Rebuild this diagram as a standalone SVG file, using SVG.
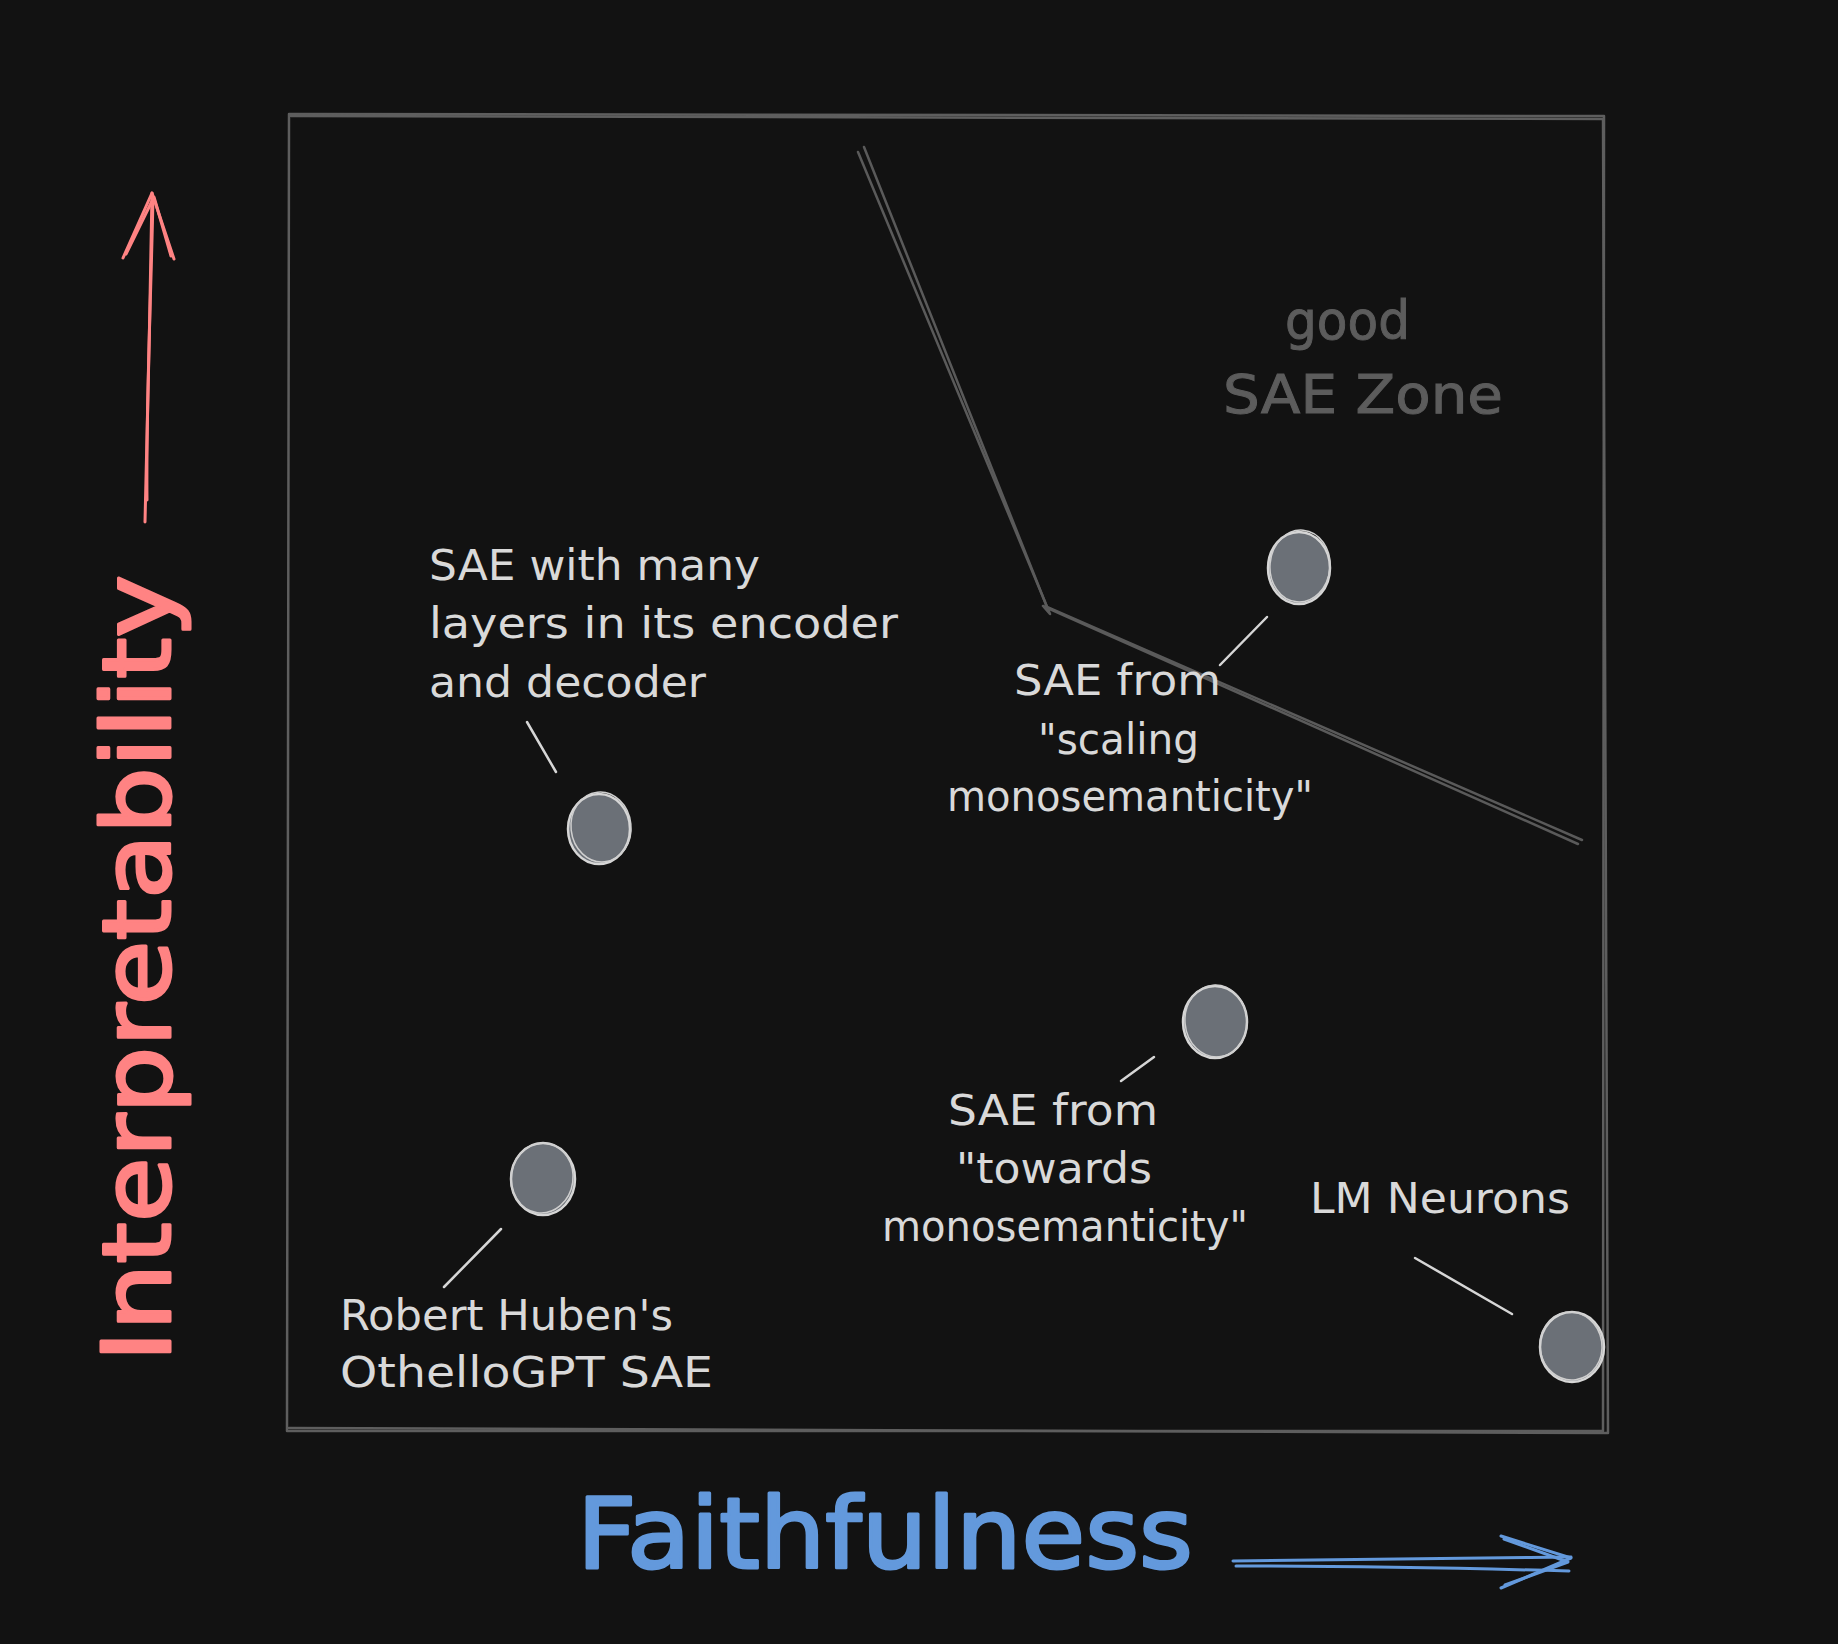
<svg xmlns="http://www.w3.org/2000/svg" width="1838" height="1644" viewBox="0 0 1838 1644">
  <style>
    .bg { fill: #121212; }
    .frame { fill: none; stroke: #5e5e5e; stroke-width: 2.5; stroke-linecap: round; stroke-linejoin: round; }
    .zone { fill: none; stroke: #5a5a5a; stroke-width: 2.5; stroke-linecap: round; stroke-linejoin: round; }
    .lead { fill: none; stroke: #d6d6d6; stroke-width: 2.5; stroke-linecap: round; }
    .dot { fill: #6b7077; stroke: #d6d6d6; stroke-width: 2.5; }
    .dot2 { fill: none; stroke: #cfcfcf; stroke-width: 1.5; }
    .lbl { font-family: "DejaVu Sans", "Liberation Sans", sans-serif; font-size: 42px; fill: #d9d9d9; }
    .zonetxt { font-family: "DejaVu Sans", "Liberation Sans", sans-serif; font-size: 54px; fill: #5c5c5c; stroke: #5c5c5c; stroke-width: 1; }
    .red { fill: none; stroke: #ff8383; stroke-width: 3; stroke-linecap: round; stroke-linejoin: round; }
    .blue { fill: none; stroke: #6399dc; stroke-width: 3; stroke-linecap: round; stroke-linejoin: round; }
    .axis { font-family: "DejaVu Sans", "Liberation Sans", sans-serif; stroke-width: 3; stroke-linejoin: round; }
  </style>
  <rect class="bg" x="0" y="0" width="1838" height="1644"/>

  <g id="frame">
    <path class="frame" d="M289 114 L1604 116 L1603 1431 L287 1431 Z"/>
    <path class="frame" d="M291 116 L1603 119 L1608 1433 L289 1428"/>
  </g>

  <g id="zone-boundary">
    <path class="zone" d="M864 147 L1047 607 L1582 840"/>
    <path class="zone" d="M858 152 L1050 614 L1043 606 L1578 844"/>
  </g>

  <g id="zone-label">
    <text class="zonetxt" x="1285" y="339" textLength="125" lengthAdjust="spacingAndGlyphs">good</text>
    <text class="zonetxt" x="1223" y="413" textLength="280" lengthAdjust="spacingAndGlyphs">SAE Zone</text>
  </g>

  <g id="y-axis">
    <path class="red" d="M145 522 C148 420 150 300 152 193"/>
    <path class="red" d="M147 500 C146 400 151 300 153 197"/>
    <path class="red" d="M123 258 L152 193 L174 259"/>
    <path class="red" d="M126 254 L154 197 L171 256"/>
    <text class="axis" transform="translate(170,1362) rotate(-90)" x="0" y="0" font-size="94" fill="#ff8383" stroke="#ff8383" textLength="787" lengthAdjust="spacingAndGlyphs">Interpretability</text>
  </g>

  <g id="x-axis">
    <text class="axis" x="577" y="1568" font-size="98" fill="#6399dc" stroke="#6399dc" textLength="616" lengthAdjust="spacingAndGlyphs">Faithfulness</text>
    <path class="blue" d="M1233 1561 C1350 1560 1460 1558 1571 1557"/>
    <path class="blue" d="M1236 1566 C1350 1566 1460 1568 1569 1571"/>
    <path class="blue" d="M1501 1536 L1571 1558 L1501 1588"/>
    <path class="blue" d="M1504 1539 L1568 1562 L1505 1585"/>
  </g>

  <g id="connectors">
    <line class="lead" x1="527" y1="722" x2="556" y2="772"/>
    <line class="lead" x1="1267" y1="617" x2="1220" y2="665"/>
    <line class="lead" x1="1154" y1="1057" x2="1121" y2="1081"/>
    <line class="lead" x1="501" y1="1229" x2="444" y2="1287"/>
    <line class="lead" x1="1415" y1="1258" x2="1512" y2="1314"/>
  </g>

  <g id="node-many-layers">
    <ellipse class="dot" cx="599" cy="829" rx="31" ry="35"/>
    <ellipse class="dot2" cx="601" cy="827" rx="30" ry="35" transform="rotate(-6 601 827)"/>
    <text class="lbl" x="429" y="580" textLength="331" lengthAdjust="spacingAndGlyphs">SAE with many</text>
    <text class="lbl" x="429" y="638" textLength="469" lengthAdjust="spacingAndGlyphs">layers in its encoder</text>
    <text class="lbl" x="429" y="697" textLength="277" lengthAdjust="spacingAndGlyphs">and decoder</text>
  </g>

  <g id="node-scaling">
    <ellipse class="dot" cx="1299" cy="568" rx="31" ry="36"/>
    <ellipse class="dot2" cx="1300" cy="566" rx="30" ry="36" transform="rotate(5 1300 566)"/>
    <text class="lbl" x="1014" y="695" textLength="207" lengthAdjust="spacingAndGlyphs">SAE from</text>
    <text class="lbl" x="1038" y="754" textLength="161" lengthAdjust="spacingAndGlyphs">"scaling</text>
    <text class="lbl" x="947" y="811" textLength="366" lengthAdjust="spacingAndGlyphs">monosemanticity"</text>
  </g>

  <g id="node-towards">
    <ellipse class="dot" cx="1215" cy="1022" rx="32" ry="36"/>
    <ellipse class="dot2" cx="1216" cy="1021" rx="31" ry="36" transform="rotate(-5 1216 1021)"/>
    <text class="lbl" x="948" y="1125" textLength="210" lengthAdjust="spacingAndGlyphs">SAE from</text>
    <text class="lbl" x="956" y="1183" textLength="196" lengthAdjust="spacingAndGlyphs">"towards</text>
    <text class="lbl" x="882" y="1241" textLength="366" lengthAdjust="spacingAndGlyphs">monosemanticity"</text>
  </g>

  <g id="node-othello">
    <ellipse class="dot" cx="543" cy="1179" rx="32" ry="36"/>
    <ellipse class="dot2" cx="542" cy="1178" rx="31" ry="35" transform="rotate(8 542 1178)"/>
    <text class="lbl" x="340" y="1330" textLength="333" lengthAdjust="spacingAndGlyphs">Robert Huben's</text>
    <text class="lbl" x="340" y="1387" textLength="373" lengthAdjust="spacingAndGlyphs">OthelloGPT SAE</text>
  </g>

  <g id="node-lm-neurons">
    <ellipse class="dot" cx="1572" cy="1347" rx="32" ry="35"/>
    <ellipse class="dot2" cx="1571" cy="1346" rx="31" ry="34" transform="rotate(-8 1571 1346)"/>
    <text class="lbl" x="1310" y="1213" textLength="260" lengthAdjust="spacingAndGlyphs">LM Neurons</text>
  </g>
</svg>
